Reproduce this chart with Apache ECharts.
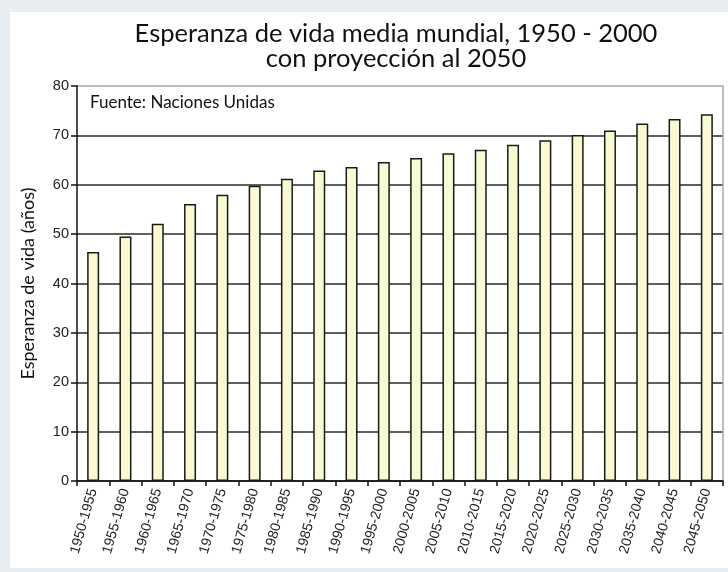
<!DOCTYPE html>
<html>
<head>
<meta charset="utf-8">
<script src="https://cdn.jsdelivr.net/npm/echarts@6/dist/echarts.min.js"></script>
<style>
html,body{margin:0;padding:0;background:#e8edf2;}
#c{width:728px;height:572px;}
</style>
</head>
<body>
<div id="c"></div>
<script>
const categories = ['1950-1955','1955-1960','1960-1965','1965-1970','1970-1975','1975-1980','1980-1985','1985-1990','1990-1995','1995-2000','2000-2005','2005-2010','2010-2015','2015-2020','2020-2025','2025-2030','2030-2035','2035-2040','2040-2045','2045-2050'];
const lifeExpectancy = [46.4, 49.5, 52.1, 56.1, 58.0, 59.8, 61.2, 62.9, 63.6, 64.6, 65.4, 66.4, 67.1, 68.1, 69.0, 70.1, 71.0, 72.4, 73.3, 74.3];
const yTicks = [0, 10, 20, 30, 40, 50, 60, 70, 80];
const titleText = 'Esperanza de vida media mundial, 1950 - 2000\ncon proyección al 2050';
const yAxisTitle = 'Esperanza de vida (años)';
const sourceText = 'Fuente: Naciones Unidas';

const chart = echarts.init(document.getElementById('c'));
const splitColors = yTicks.map(v => v === 80 ? '#a8a8a8' : '#2a2a2a');
chart.setOption({
  backgroundColor: 'transparent',
  animation: false,
  title: {
    text: titleText,
    left: 391, textAlign: 'center', top: 16,
    textStyle: { fontFamily: 'Lato', fontSize: 25.5, fontWeight: 'normal', color: '#111', lineHeight: 25 }
  },
  graphic: [
    { type: 'rect', z: -10, shape: { x: 10, y: 12, width: 718, height: 556 }, style: { fill: '#ffffff' } },
    { type: 'text', left: 90, top: 94, z: 10, style: { text: sourceText, fontFamily: 'Lato', fontSize: 17, fill: '#111' } }
  ],
  grid: { left: 77, right: 5, top: 86, bottom: 91, containLabel: false },
  xAxis: {
    type: 'category',
    data: categories,
    axisLine: { lineStyle: { color: '#111', width: 1.5 } },
    axisTick: { show: true, length: 5, lineStyle: { color: '#111', width: 1.5 } },
    axisLabel: { interval: 0, rotate: 74, fontFamily: 'Liberation Sans', fontSize: 14, color: '#222', margin: 8 }
  },
  yAxis: [{
    type: 'value', min: 0, max: 80, interval: 10,
    name: yAxisTitle, nameLocation: 'middle', nameGap: 40,
    nameTextStyle: { fontFamily: 'Lato', fontSize: 18, color: '#111' },
    axisLine: { show: true, lineStyle: { color: '#111', width: 1.5 } },
    axisTick: { show: true, length: 6, lineStyle: { color: '#111', width: 1.5 } },
    axisLabel: { fontFamily: 'Liberation Sans', fontSize: 14.5, color: '#222', margin: 8 },
    splitLine: { show: true, lineStyle: { color: splitColors, width: 1.5 } }
  }, {
    type: 'value', min: 0, max: 80, interval: 10, position: 'right',
    axisLine: { show: true, lineStyle: { color: '#a8a8a8', width: 1.5 } },
    axisTick: { show: false }, axisLabel: { show: false }, splitLine: { show: false }
  }],
  series: [{
    type: 'bar',
    data: lifeExpectancy,
    barWidth: 12,
    itemStyle: { color: '#fafad2', borderColor: '#1a1a1a', borderWidth: 1.5 }
  }]
});
</script>
</body>
</html>
